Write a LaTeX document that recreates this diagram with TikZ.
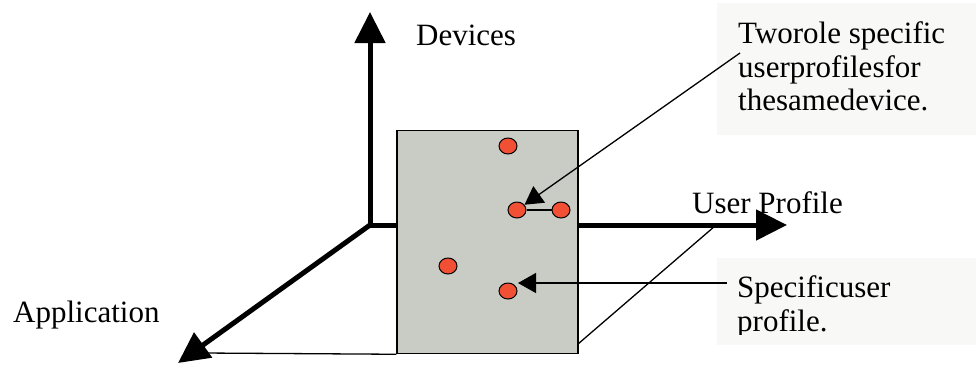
\documentclass[tikz,border=0pt]{standalone}
\usepackage{fontspec}
\setmainfont{Liberation Serif}
\usetikzlibrary{arrows.meta,shapes.geometric}
\definecolor{boxgray}{RGB}{201,203,197}
\definecolor{dotred}{RGB}{242,80,52}
\definecolor{labelbg}{RGB}{248,248,246}
\begin{document}
\begin{tikzpicture}[x=1pt,y=-1pt,
  axis/.style={line width=5pt,-{Triangle[length=31pt,width=30pt]}},
  thin/.style={line width=1.3pt},
  ptr/.style={line width=1.3pt,-{Triangle[length=18pt,width=20pt]}},
  dot/.style={ellipse,draw=black,line width=1pt,fill=dotred,minimum width=18pt,minimum height=16pt,inner sep=0pt},
  lbl/.style={font=\fontsize{31pt}{34pt}\selectfont,inner sep=0pt,align=left}]
\useasboundingbox (0,0) rectangle (976,368);
% label backgrounds
\fill[labelbg] (717,3) rectangle (976,135);
\fill[labelbg] (717,258) rectangle (976,345);
% axes
\coordinate (O) at (370,225);
\coordinate (tipU) at (370,12);
\coordinate (tipR) at (787,225);
\coordinate (tipA) at (178,363);
\draw[axis] (O) -- (tipR);
\draw[axis,line cap=butt] (O) -- (tipU);
\draw[axis] (O) -- (tipA);
% plane
\node[draw=black,line width=1.5pt,fill=boxgray,minimum width=181pt,minimum height=223pt,inner sep=0pt] (plane) at (487.5,242) {};
\coordinate (planeEnd) at (203,353);
\draw[thin] (planeEnd) -- (plane.south west);
\coordinate (rc) at (578,344);
\coordinate (ac) at (715,226);
\draw[thin] (rc) -- (ac);
% dots
\node[dot] (d1) at (508,146) {};
\node[dot] (d2) at (517,210) {};
\node[dot] (d3) at (561,210) {};
\node[dot] (d4) at (448,266) {};
\node[dot] (d5) at (508,291) {};
% labels
\node[lbl,anchor=base west] (dev) at (416,45) {Devices};
\node[lbl,anchor=base west] (up) at (692,213) {User Profile};
\node[lbl,anchor=base west] (app) at (13,322) {Application};
\node[lbl,anchor=base west] (two1) at (738,43) {Tworole specific};
\node[lbl,anchor=base west] (two2) at (738,77) {userprofilesfor};
\node[lbl,anchor=base west] (two3) at (738,110) {thesamedevice.};
\node[lbl,anchor=base west] (sp1) at (737,297) {Specificuser};
\begin{scope}
\clip (700,300) rectangle (976,334);
\node[lbl,anchor=base west] (sp2) at (737,331) {profile.};
\end{scope}
% pointers
\coordinate (twoStart) at (740,53);
\coordinate (spStart) at (727,283);
\coordinate (spTip) at (518,283);
\draw[ptr] (twoStart) -- (d2);
\draw[thin] (d2.east) -- (d3.west);
\draw[ptr] (spStart) -- (spTip);
\end{tikzpicture}
\end{document}
